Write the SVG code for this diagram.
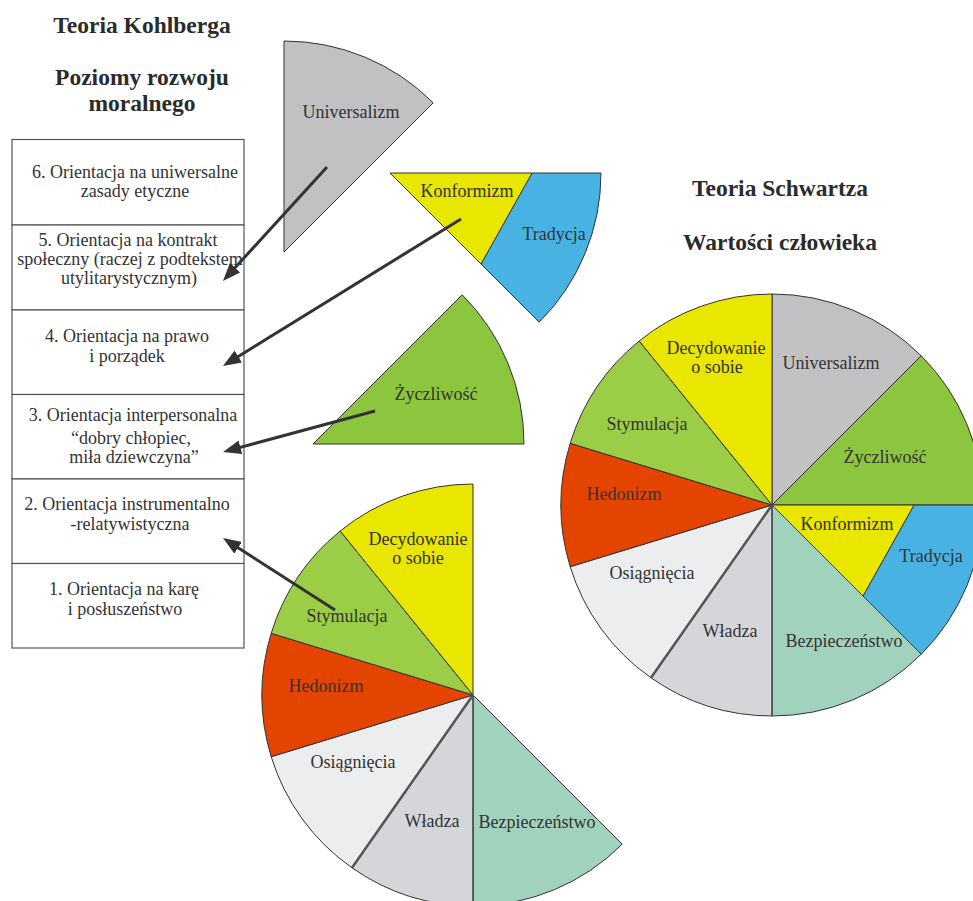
<svg xmlns="http://www.w3.org/2000/svg" width="973" height="901" viewBox="0 0 973 901">
<defs>
<style>
.t{font-family:"Liberation Serif","Times New Roman",serif;font-size:18px;fill:#333;text-anchor:middle}
.h{font-family:"Liberation Serif","Times New Roman",serif;font-size:23.5px;font-weight:bold;fill:#2b2b2b;text-anchor:middle}
.s{stroke:#333;stroke-width:1;stroke-linejoin:round}
.uni{fill:#c1c0c2}.zyc{fill:#8cc63e}.kon{fill:#e9e600}.tra{fill:#48b2e3}.bez{fill:#a0d2be}.wla{fill:#d5d6da}.osi{fill:#ecedef}.hed{fill:#e34400}.sty{fill:#9ccd46}.dec{fill:#e9e600}
.box{fill:#fff;stroke:#555;stroke-width:1.2}
.arr{stroke:#333;stroke-width:3;fill:none;marker-end:url(#ah)}
</style>
<marker id="ah" markerUnits="userSpaceOnUse" markerWidth="18" markerHeight="14" refX="8" refY="7" orient="auto" viewBox="0 0 18 14">
<path d="M0,0 L18,7 L0,14 Z" fill="#333"/>
</marker>
</defs>
<rect width="973" height="901" fill="#fff"/>

<g id="titles">
<text class="h" x="142" y="33">Teoria Kohlberga</text>
<text class="h" x="142" y="84.5">Poziomy rozwoju</text>
<text class="h" x="142" y="111">moralnego</text>
<text class="h" x="780" y="196">Teoria Schwartza</text>
<text class="h" x="780" y="250">Wartości człowieka</text>
</g>

<g id="kohlberg-table">
<g id="stage6"><rect class="box" x="12" y="139.5" width="232" height="85.5"/>
<text class="t" x="135" y="178">6. Orientacja na uniwersalne</text>
<text class="t" x="135" y="197">zasady etyczne</text></g>
<g id="stage5"><rect class="box" x="12" y="225" width="232" height="85"/>
<text class="t" x="128" y="246">5. Orientacja na kontrakt</text>
<text class="t" x="130" y="265">społeczny (raczej z podtekstem</text>
<text class="t" x="129" y="284">utylitarystycznym)</text></g>
<g id="stage4"><rect class="box" x="12" y="310" width="232" height="84.5"/>
<text class="t" x="127" y="342">4. Orientacja na prawo</text>
<text class="t" x="127" y="362">i porządek</text></g>
<g id="stage3"><rect class="box" x="12" y="394.5" width="232" height="84.5"/>
<text class="t" x="133" y="421">3. Orientacja interpersonalna</text>
<text class="t" x="131" y="444">“dobry chłopiec,</text>
<text class="t" x="134" y="463">miła dziewczyna”</text></g>
<g id="stage2"><rect class="box" x="12" y="479" width="232" height="84.5"/>
<text class="t" x="127" y="510">2. Orientacja instrumentalno</text>
<text class="t" x="130" y="530">-relatywistyczna</text></g>
<g id="stage1"><rect class="box" x="12" y="563.5" width="232" height="84.5"/>
<text class="t" x="124" y="595">1. Orientacja na karę</text>
<text class="t" x="125" y="615">i posłuszeństwo</text></g>
</g>

<g id="detached-universalizm">
<path class="s uni" d="M284,252 L284,41 A211,211 0 0 1 433.2,102.8 Z"/>
<text class="t" x="351" y="118">Universalizm</text>
</g>
<g id="detached-konformizm-tradycja">
<path class="s tra" d="M532,173 L601,173 A211,211 0 0 1 539.2,322.2 L481,264 Z"/>
<path class="s kon" d="M390,173 L532,173 L481,264 Z"/>
<text class="t" x="467" y="197">Konformizm</text>
<text class="t" x="554" y="240">Tradycja</text>
</g>
<g id="detached-zyczliwosc">
<path class="s zyc" d="M313,444 L462.2,294.8 A211,211 0 0 1 524,444 Z"/>
<text class="t" x="436" y="400">Życzliwość</text>
</g>

<g id="left-pie">
<path class="s bez" d="M473,695 L622.2,844.2 A211,211 0 0 1 473,906 Z"/>
<path class="s wla" d="M473,695 L473,906 A211,211 0 0 1 352,867.8 Z"/>
<path class="s osi" d="M473,695 L352,867.8 A211,211 0 0 1 271.2,756.7 Z"/>
<path class="s hed" d="M473,695 L271.2,756.7 A211,211 0 0 1 271.2,633.3 Z"/>
<path class="s sty" d="M473,695 L271.2,633.3 A211,211 0 0 1 340.2,531 Z"/>
<path class="s dec" d="M473,695 L340.2,531 A211,211 0 0 1 473,484 Z"/>
<line x1="473" y1="695" x2="352" y2="867.8" stroke="#555" stroke-width="2.5"/>
<line x1="473" y1="695" x2="473" y2="906" stroke="#555" stroke-width="1.5"/>
<text class="t" x="418" y="545">Decydowanie</text>
<text class="t" x="418" y="564">o sobie</text>
<text class="t" x="347" y="622">Stymulacja</text>
<text class="t" x="326" y="692">Hedonizm</text>
<text class="t" x="353" y="768">Osiągnięcia</text>
<text class="t" x="432" y="827">Władza</text>
<text class="t" x="537" y="828">Bezpieczeństwo</text>
</g>

<g id="right-pie">
<path class="s uni" d="M772,505 L772,294 A211,211 0 0 1 921.2,355.8 Z"/>
<path class="s zyc" d="M772,505 L921.2,355.8 A211,211 0 0 1 983,505 Z"/>
<path class="s tra" d="M914,505 L983,505 A211,211 0 0 1 921.2,654.2 L863,596 Z"/>
<path class="s kon" d="M772,505 L914,505 L863,596 Z"/>
<path class="s bez" d="M772,505 L921.2,654.2 A211,211 0 0 1 772,716 Z"/>
<path class="s wla" d="M772,505 L772,716 A211,211 0 0 1 651,677.8 Z"/>
<path class="s osi" d="M772,505 L651,677.8 A211,211 0 0 1 570.2,566.7 Z"/>
<path class="s hed" d="M772,505 L570.2,566.7 A211,211 0 0 1 570.2,443.3 Z"/>
<path class="s sty" d="M772,505 L570.2,443.3 A211,211 0 0 1 639.2,341 Z"/>
<path class="s dec" d="M772,505 L639.2,341 A211,211 0 0 1 772,294 Z"/>
<line x1="772" y1="505" x2="651" y2="677.8" stroke="#555" stroke-width="2.5"/>
<line x1="772" y1="505" x2="772" y2="716" stroke="#555" stroke-width="1.5"/>
<text class="t" x="831" y="369">Universalizm</text>
<text class="t" x="716" y="354">Decydowanie</text>
<text class="t" x="717" y="373">o sobie</text>
<text class="t" x="647" y="430">Stymulacja</text>
<text class="t" x="885" y="463">Życzliwość</text>
<text class="t" x="624" y="500">Hedonizm</text>
<text class="t" x="847" y="530">Konformizm</text>
<text class="t" x="931" y="562">Tradycja</text>
<text class="t" x="652" y="579">Osiągnięcia</text>
<text class="t" x="730" y="637">Władza</text>
<text class="t" x="844" y="647">Bezpieczeństwo</text>
</g>

<g id="connectors">
<line class="arr" x1="327" y1="167" x2="229.7" y2="273.6"/>
<line class="arr" x1="461" y1="219" x2="231.5" y2="360.7"/>
<line class="arr" x1="375" y1="411" x2="232.7" y2="449.4"/>
<line class="arr" x1="335" y1="610" x2="231.4" y2="543.4"/>
</g>
</svg>
